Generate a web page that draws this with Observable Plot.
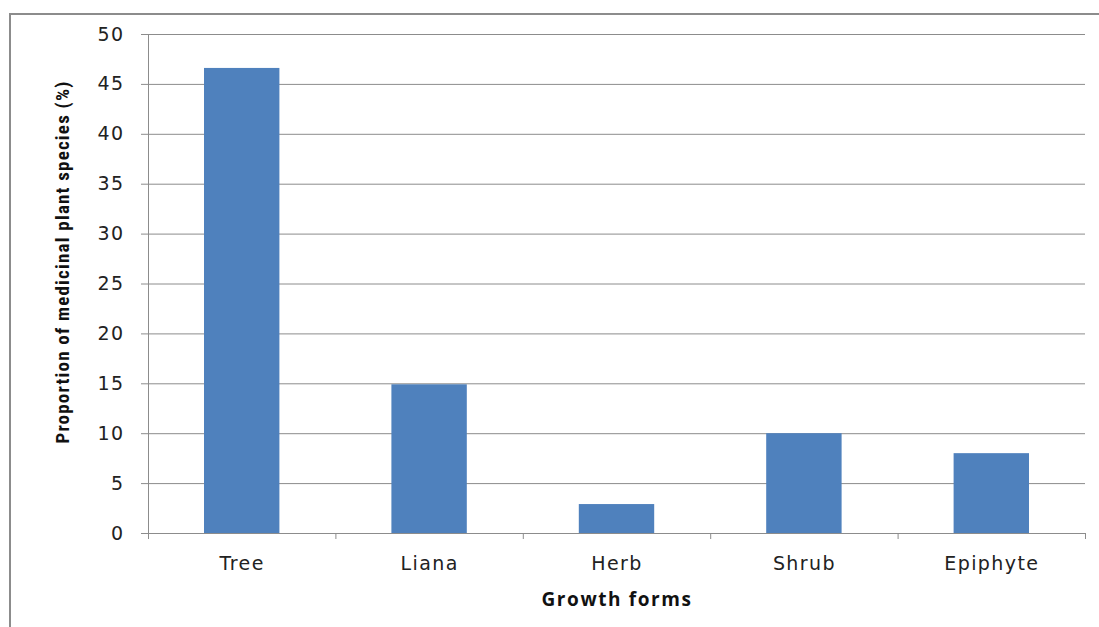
<!DOCTYPE html>
<html><head><meta charset="utf-8">
<script src="https://cdn.jsdelivr.net/npm/d3@7"></script>
<script src="https://cdn.jsdelivr.net/npm/@observablehq/plot@0.6"></script>
<style>
html,body{margin:0;padding:0;background:#fff;}
#wrap{position:relative;width:1099px;height:627px;overflow:hidden;}
#border{position:absolute;left:9px;top:13px;width:1200px;height:700px;border:2px solid #8c8c8c;box-sizing:border-box;}
#chart{position:absolute;left:0;top:0;}
.tl text{letter-spacing:1.4px;}
</style></head>
<body><div id="wrap"><div id="border"></div><div id="chart"></div></div>
<script>
const categories = ["Tree", "Liana", "Herb", "Shrub", "Epiphyte"];
const values = [46.6, 14.9, 2.9, 10.0, 8.0];
const yTicks = [0, 5, 10, 15, 20, 25, 30, 35, 40, 45, 50];
const yTitle = "Proportion of medicinal plant species (%)";
const xTitle = "Growth forms";

const data = categories.map((c, i) => ({cat: c, i, value: values[i]}));
const bounds = d3.range(categories.length + 1);
const centers = categories.map((c, i) => i + 0.5);

const chart = Plot.plot({
  width: 1099, height: 627,
  marginLeft: 148, marginRight: 14, marginTop: 34, marginBottom: 94,
  style: {fontFamily: "DejaVu Sans, Verdana, sans-serif", fontSize: "16px", color: "#222", background: "transparent"},
  x: {domain: [0, categories.length], axis: null},
  y: {domain: [0, 50], ticks: yTicks, axis: null},
  marks: [
    Plot.gridY(yTicks, {stroke: "#8c8c8c", strokeOpacity: 1, strokeWidth: 1}),
    Plot.rectY(data, {x1: "i", x2: d => d.i + 1, y: "value", fill: "#4F81BD", insetLeft: 56, insetRight: 56}),
    Plot.axisY(yTicks, {tickSize: 7, tickPadding: 17, stroke: "#8c8c8c", fontSize: 19, fill: "#222", label: null, className: "tl"}),
    Plot.ruleX([0], {stroke: "#8c8c8c"}),
    Plot.ruleY([0], {stroke: "#8c8c8c"}),
    Plot.axisX(bounds, {tickSize: 6, tickFormat: () => "", stroke: "#8c8c8c", label: null}),
    Plot.axisX(centers, {tickSize: 0, tickPadding: 23, tickFormat: (d, k) => categories[k], fontSize: 19, fill: "#222", label: null, className: "tl"}),
    Plot.text([xTitle], {frameAnchor: "bottom", dy: 72, fontWeight: "bold", fontSize: 19, fill: "#111", fontFamily: "Open Sans, sans-serif", className: "xt"}),
    Plot.text([yTitle], {frameAnchor: "left", dx: -86, dy: -22, rotate: -90, fontWeight: "bold", fontSize: 19, fill: "#111", fontFamily: "Liberation Sans Narrow, Roboto Condensed, sans-serif", textAnchor: "middle", className: "yt"})
  ]
});
chart.querySelectorAll(".xt text").forEach(t => t.style.letterSpacing = "1.6px");
chart.querySelectorAll(".yt text").forEach(t => t.style.letterSpacing = "1.2px");
document.getElementById("chart").appendChild(chart);
</script></body></html>
